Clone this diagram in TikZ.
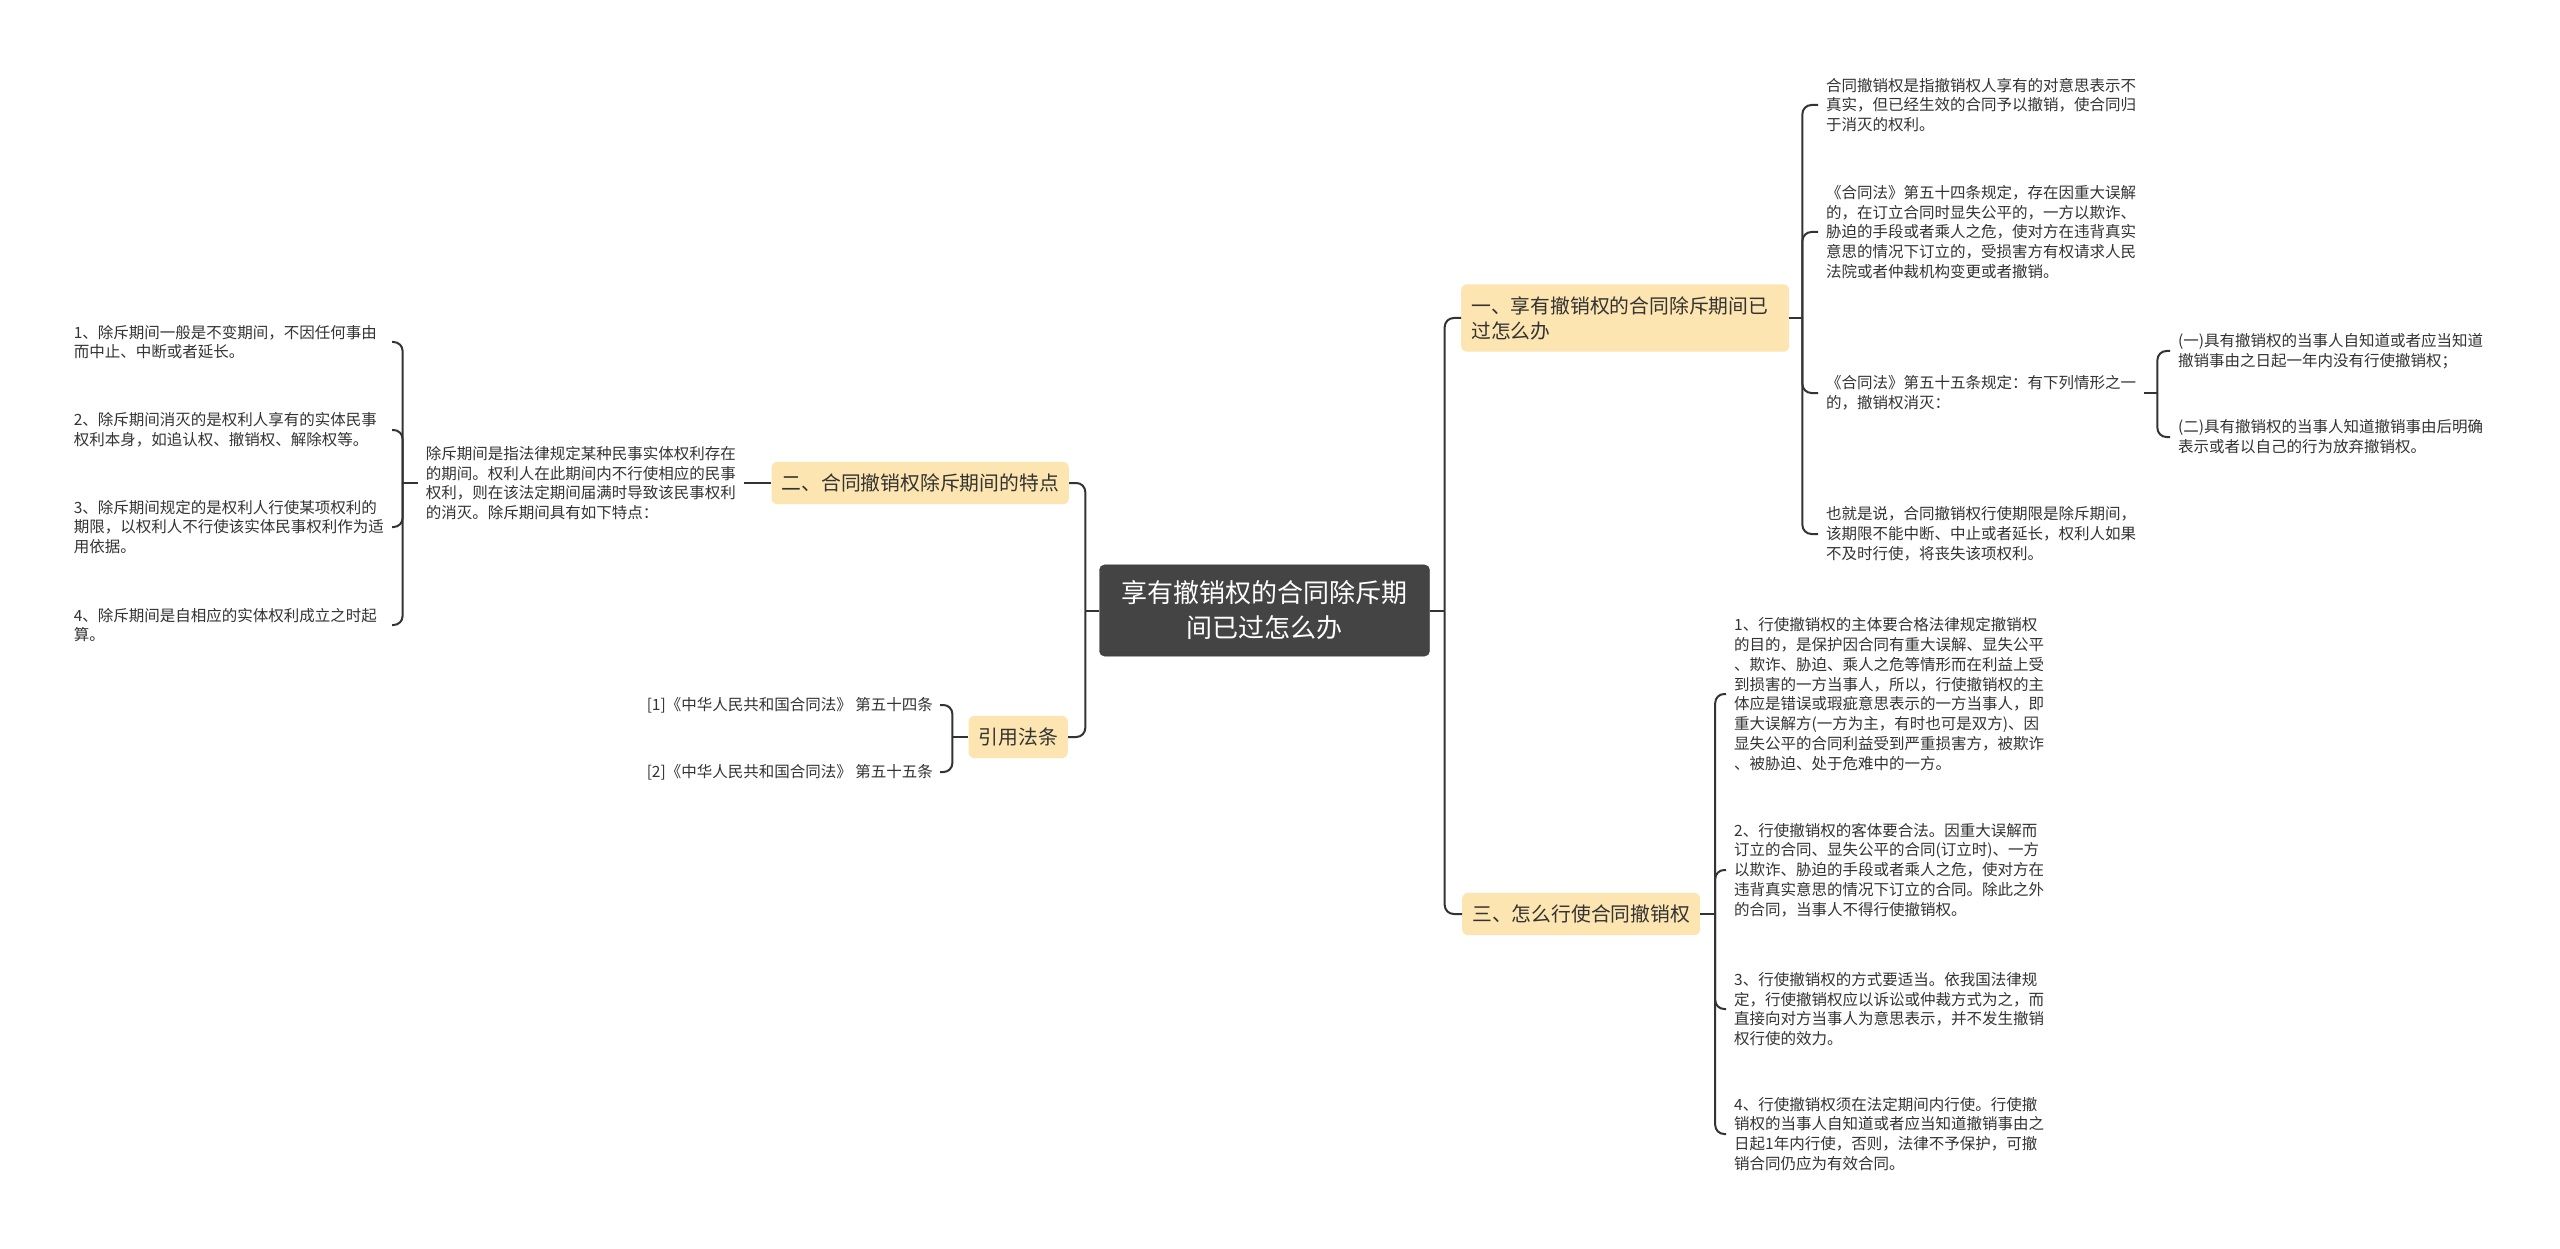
\documentclass[tikz,border=0pt]{standalone}
\usepackage{fontspec}
\setmainfont{Noto Sans CJK SC}
\definecolor{rootfill}{HTML}{444444}
\definecolor{topicfill}{HTML}{FCE5B0}
\definecolor{linegray}{HTML}{333333}
\definecolor{textgray}{HTML}{333333}

\begin{document}
\begin{tikzpicture}[
    x=1pt, y=-1pt,
    root/.style={draw=linegray, fill=rootfill, text=white, rounded corners=5pt, align=center, inner xsep=22pt, inner ysep=16pt, font=\fontsize{26}{35}\selectfont},
    topic/.style={fill=topicfill, rounded corners=6pt, align=left, inner xsep=10pt, inner ysep=12pt, text=textgray, font=\fontsize{19.8}{25}\selectfont},
    leaf/.style={text width=310pt, align=left, inner xsep=8pt, inner ysep=3pt, text=textgray, font=\fontsize{15.5}{19.8}\selectfont},
    citation/.style={inner xsep=7pt, inner ysep=3pt, text=textgray, font=\fontsize{15.5}{19.8}\selectfont},
    link/.style={draw=linegray, line width=2pt, rounded corners=9pt},
  ]
  \fill[white] (0,0) rectangle (2560,1249);
  \useasboundingbox (0,0) rectangle (2560,1249);

  % Root and main topics
  \node[root] (root) at (1264.5,610.5) {享有撤销权的合同除斥期\\间已过怎么办};
  \node[topic, anchor=west, text width=308pt] (sec1) at (1461,318) {一、享有撤销权的合同除斥期间已\\过怎么办};
  \node[topic, anchor=west] (sec3) at (1462,914) {三、怎么行使合同撤销权};
  \node[topic, anchor=east] (sec2) at (1069,483) {二、合同撤销权除斥期间的特点};
  \node[topic, anchor=east] (cite) at (1068,737) {引用法条};

  % Topic one
  \node[leaf, anchor=west] (a1) at (1818,105) {合同撤销权是指撤销权人享有的对意思表示不\\真实，但已经生效的合同予以撤销，使合同归\\于消灭的权利。};
  \node[leaf, anchor=west] (a2) at (1818,232) {《合同法》第五十四条规定，存在因重大误解\\的，在订立合同时显失公平的，一方以欺诈、\\胁迫的手段或者乘人之危，使对方在违背真实\\意思的情况下订立的，受损害方有权请求人民\\法院或者仲裁机构变更或者撤销。};
  \node[leaf, anchor=west] (a3) at (1818,393) {《合同法》第五十五条规定：有下列情形之一\\的，撤销权消灭：};
  \node[leaf, anchor=west] (a4) at (1818,534) {也就是说，合同撤销权行使期限是除斥期间，\\该期限不能中断、中止或者延长，权利人如果\\不及时行使，将丧失该项权利。};
  \node[leaf, anchor=west] (s1) at (2170,351) {(一)具有撤销权的当事人自知道或者应当知道\\撤销事由之日起一年内没有行使撤销权；};
  \node[leaf, anchor=west] (s2) at (2170,437) {(二)具有撤销权的当事人知道撤销事由后明确\\表示或者以自己的行为放弃撤销权。};

  % Topic three
  \node[leaf, anchor=west] (c1) at (1726,694) {1、行使撤销权的主体要合格法律规定撤销权\\的目的，是保护因合同有重大误解、显失公平\\、欺诈、胁迫、乘人之危等情形而在利益上受\\到损害的一方当事人，所以，行使撤销权的主\\体应是错误或瑕疵意思表示的一方当事人，即\\重大误解方(一方为主，有时也可是双方)、因\\显失公平的合同利益受到严重损害方，被欺诈\\、被胁迫、处于危难中的一方。};
  \node[leaf, anchor=west] (c2) at (1726,870) {2、行使撤销权的客体要合法。因重大误解而\\订立的合同、显失公平的合同(订立时)、一方\\以欺诈、胁迫的手段或者乘人之危，使对方在\\违背真实意思的情况下订立的合同。除此之外\\的合同，当事人不得行使撤销权。};
  \node[leaf, anchor=west] (c3) at (1726,1009) {3、行使撤销权的方式要适当。依我国法律规\\定，行使撤销权应以诉讼或仲裁方式为之，而\\直接向对方当事人为意思表示，并不发生撤销\\权行使的效力。};
  \node[leaf, anchor=west] (c4) at (1726,1134) {4、行使撤销权须在法定期间内行使。行使撤\\销权的当事人自知道或者应当知道撤销事由之\\日起1年内行使，否则，法律不予保护，可撤\\销合同仍应为有效合同。};

  % Topic two
  \node[leaf, anchor=east] (p0) at (744,483) {除斥期间是指法律规定某种民事实体权利存在\\的期间。权利人在此期间内不行使相应的民事\\权利，则在该法定期间届满时导致该民事权利\\的消灭。除斥期间具有如下特点：};
  \node[leaf, anchor=east] (b1) at (392,342) {1、除斥期间一般是不变期间，不因任何事由\\而中止、中断或者延长。};
  \node[leaf, anchor=east] (b2) at (392,430) {2、除斥期间消灭的是权利人享有的实体民事\\权利本身，如追认权、撤销权、解除权等。};
  \node[leaf, anchor=east] (b3) at (392,527) {3、除斥期间规定的是权利人行使某项权利的\\期限，以权利人不行使该实体民事权利作为适\\用依据。};
  \node[leaf, anchor=east] (b4) at (392,625) {4、除斥期间是自相应的实体权利成立之时起\\算。};

  % Cited articles
  \node[citation, anchor=east] (r1) at (940,705) {[1]《中华人民共和国合同法》 第五十四条};
  \node[citation, anchor=east] (r2) at (940,772) {[2]《中华人民共和国合同法》 第五十五条};

  % Root links
  \draw[link] (root.east) -- ++(15,0) coordinate (rj);
  \draw[link] (rj) |- (sec1.west);
  \draw[link] (rj) |- (sec3.west);
  \draw[link] (root.west) -- ++(-14,0) coordinate (lj);
  \draw[link] (lj) |- (sec2.east);
  \draw[link] (lj) |- (cite.east);

  % Topic one links
  \draw[link] (sec1.east) -- ++(13,0) coordinate (aj);
  \draw[link] (aj) |- (a1.west);
  \draw[link] (aj) |- (a2.west);
  \draw[link] (aj) |- (a3.west);
  \draw[link] (aj) |- (a4.west);
  \draw[link] (a3.east) -- ++(13,0) coordinate (sj);
  \draw[link] (sj) |- (s1.west);
  \draw[link] (sj) |- (s2.west);

  % Topic three links
  \draw[link] (sec3.east) -- ++(15,0) coordinate (cj);
  \draw[link] (cj) |- (c1.west);
  \draw[link] (cj) |- (c2.west);
  \draw[link] (cj) |- (c3.west);
  \draw[link] (cj) |- (c4.west);

  % Topic two links
  \draw[link] (sec2.west) -- (p0.east);
  \draw[link] (p0.west) -- ++(-15,0) coordinate (pj);
  \draw[link] (pj) |- (b1.east);
  \draw[link] (pj) |- (b2.east);
  \draw[link] (pj) |- (b3.east);
  \draw[link] (pj) |- (b4.east);

  % Citation links
  \draw[link] (cite.west) -- ++(-16,0) coordinate (fj);
  \draw[link] (fj) |- (r1.east);
  \draw[link] (fj) |- (r2.east);
\end{tikzpicture}
\end{document}
